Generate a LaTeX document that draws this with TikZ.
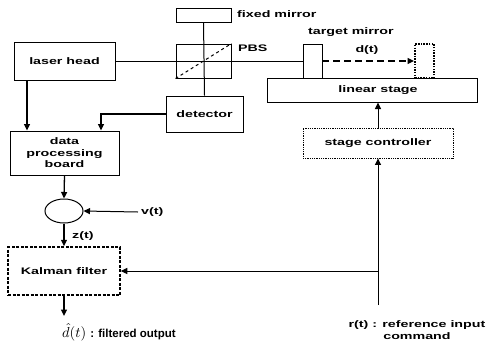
\documentclass[tikz,border=0pt]{standalone}
\usepackage{fontspec}
\setmainfont{Liberation Sans}[FakeStretch=1.5]
\newfontfamily\plainsans{Liberation Sans}
\usetikzlibrary{arrows.meta,shapes.geometric}
\tikzset{
  lbl/.style={font=\bfseries\fontsize{9.5}{11.5}\selectfont, inner sep=0pt},
  box/.style={draw, line width=1pt, inner sep=0pt, lbl, align=center},
  arr/.style={line width=1.3pt, -{Triangle[length=6.5pt,width=6pt]}},
  thin/.style={line width=1pt},
}
\begin{document}
\begin{tikzpicture}[x=1pt,y=-1pt]
\useasboundingbox (0,0) rectangle (486,341);
% boxes
\node[box, minimum width=101pt, minimum height=38pt] (laser) at (64.5,61) {laser head};
\node[box, minimum width=55pt, minimum height=14pt] (fixed) at (203.5,15) {};
\node[box, minimum width=55pt, minimum height=34pt] (pbs) at (203.5,61) {};
\node[box, minimum width=77pt, minimum height=36pt] (detector) at (204.5,114) {detector};
\node[box, minimum width=109pt, minimum height=44pt] (dpb) at (64.5,153) {data\\processing\\board};
\node[draw, line width=1pt, ellipse, minimum width=38pt, minimum height=24pt, inner sep=0pt] (sum) at (64,211) {};
\node[box, dashed, line width=1.5pt, dash pattern=on 3pt off 1.5pt, minimum width=112pt, minimum height=48pt] (kalman) at (64,271) {Kalman filter};
\node[box, line width=0.8pt, minimum width=19pt, minimum height=34pt] (target) at (312.5,61) {};
\node[box, line width=2pt, dash pattern=on 1.5pt off 1.2pt, minimum width=19pt, minimum height=34pt] (ghost) at (424.5,61) {};
\node[box, minimum width=210pt, minimum height=24pt] (stage) at (372,90) {\hspace*{12pt}linear stage};
\node[box, line width=0.8pt, densely dotted, minimum width=150pt, minimum height=30pt] (ctrl) at (378,143) {stage controller};
% labels
\node[lbl, anchor=west] (fixedlbl) at (237,14) {fixed mirror};
\node[lbl, anchor=west] (pbslbl) at (238,48) {PBS};
\node[lbl] (tmlbl) at (351,32) {target mirror};
\node[lbl] (dlbl) at (367,50) {d(t)};
\node[lbl, anchor=west, inner sep=3pt] (vlbl) at (138,212) {v(t)};
\node[lbl, anchor=west] (zlbl) at (72,236) {z(t)};
\node[inner sep=0pt, anchor=west] (outlbl) at (62,332) {\scalebox{1.45}{$\hat{d}(t)$}\hspace{4pt}\plainsans\bfseries\fontsize{11.5}{12}\selectfont : filtered output};
\node[lbl, align=center] (rlbl) at (417,330) {r(t) : reference input\\command};
% optics
\draw[thin] (laser.east) -- (target.west);
\draw[thin] (fixed.south) -- (detector.north);
\draw[thin, dashed] (pbs.south west) -- (pbs.north east);
\draw[arr, dashed, line width=1.2pt, dash pattern=on 7pt off 4pt] (target.east) -- (ghost.west);
% signal flow
\draw[arr] ([xshift=-37.5pt]laser.south) -- ([xshift=-37.5pt]dpb.north);
\draw[arr] (detector.west) -| ([xshift=36.5pt]dpb.north);
\draw[arr] (dpb.south) -- (sum.north);
\draw[arr, line width=1pt] (vlbl.west) -- (sum.east);
\draw[arr] (sum.south) -- (kalman.north);
\coordinate (outend) at (64,316);
\draw[arr] (kalman.south) -- (outend);
\coordinate (rbot) at (378,305);
\coordinate (junc) at (378,271);
\draw[arr, line width=1pt] (rbot) -- (ctrl.south);
\draw[arr, line width=1pt] (junc) -- (kalman.east);
\draw[arr, line width=1pt] (ctrl.north) -- (ctrl.north |- stage.south);
\end{tikzpicture}
\end{document}
